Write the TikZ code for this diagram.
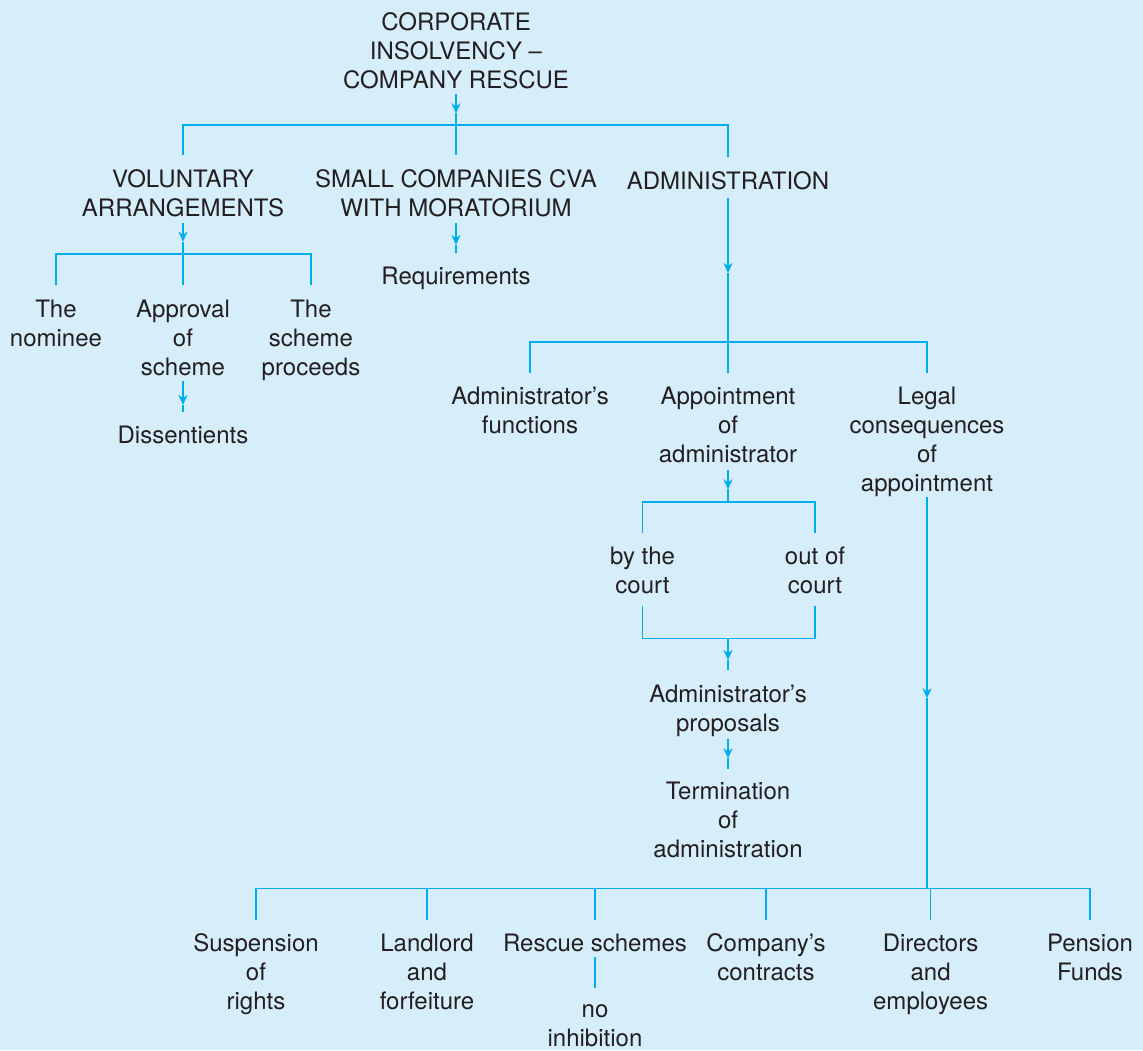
\documentclass[tikz,border=0pt]{standalone}
\usepackage{fontspec}
\setmainfont{TeX Gyre Heros}
\usetikzlibrary{arrows.meta}
\definecolor{bgc}{HTML}{D6EDFA}
\definecolor{lnc}{HTML}{00AEEF}
\definecolor{txc}{HTML}{231F20}
\begin{document}
\begin{tikzpicture}[x=1pt,y=-1pt,
  lbl/.style={inner sep=0pt, align=center, anchor=north, text=txc, font=\fontsize{24}{29}\selectfont},
  conn/.style={draw=lnc, line width=1.6pt},
  tiparrow/.style={-{Stealth[length=10pt,width=9pt,inset=3pt]}},
  gapin/.style={shorten >=14pt},
  gapout/.style={shorten <=6pt},
  gapboth/.style={shorten <=14pt, shorten >=14pt}]
\fill[bgc] (0,0) rectangle (1143,1050);
\useasboundingbox (0,0) rectangle (1143,1050);

% nodes
\node[lbl] (root) at (456,12.0) {CORPORATE\\INSOLVENCY \textendash\\COMPANY RESCUE};
\node[lbl] (va) at (183,169.4) {VOLUNTARY\\ARRANGEMENTS};
\node[lbl] (scva) at (456,169.4) {SMALL COMPANIES CVA\\WITH MORATORIUM};
\node[lbl] (adm) at (728,171.4) {ADMINISTRATION};
\node[lbl] (req) at (456,267.0) {Requirements};
\node[lbl] (nom) at (56,299.4) {The\\nominee};
\node[lbl] (appr) at (183,299.4) {Approval\\of\\scheme};
\node[lbl] (proc) at (311,299.4) {The\\scheme\\proceeds};
\node[lbl] (diss) at (183,426.0) {Dissentients};
\node[lbl] (afun) at (530,386.7) {Administrator’s\\functions};
\node[lbl] (appt) at (728,386.7) {Appointment\\of\\administrator};
\node[lbl] (legal) at (927,386.7) {Legal\\consequences\\of\\appointment};
\node[lbl] (byc) at (642.5,547.0) {by the\\court};
\node[lbl] (ooc) at (815,547.0) {out of\\court};
\node[lbl] (prop) at (728,685.0) {Administrator’s\\proposals};
\node[lbl] (term) at (728,782.0) {Termination\\of\\administration};
\node[lbl] (susp) at (256,933.7) {Suspension\\of\\rights};
\node[lbl] (land) at (427,933.7) {Landlord\\and\\forfeiture};
\node[lbl] (resc) at (595,933.7) {Rescue schemes};
\node[lbl] (cont) at (766,933.7) {Company’s\\contracts};
\node[lbl] (dir) at (930.6,933.7) {Directors\\and\\employees};
\node[lbl] (pens) at (1090,933.7) {Pension\\Funds};
\node[lbl] (noinh) at (595,1004.2) {no\\inhibition};

% junctions and arrow tips
\coordinate (j1) at (456,125);
\coordinate (a1) at (456,113.3);
\coordinate (j2) at (183,254);
\coordinate (a2) at (183,241.7);
\coordinate (a3) at (183,405);
\coordinate (a4) at (456,245);
\coordinate (a5) at (728,273);
\coordinate (j3) at (728,341.7);
\coordinate (a6) at (728,489.3);
\coordinate (j4) at (728,501.7);
\coordinate (j5) at (728,638.3);
\coordinate (a7) at (728,660);
\coordinate (a8) at (728,758.3);
\coordinate (a9) at (927,698.3);
\coordinate (j6) at (927,888.3);

% top level
\draw[conn,tiparrow,shorten <=5pt] (root) -- (a1);
\draw[conn] (a1) -- (j1);
\draw[conn,gapboth] (va) |- (j1) -| (adm);
\draw[conn,gapin] (j1) -- (scva);

% voluntary arrangements
\draw[conn,tiparrow,gapout] (va) -- (a2);
\draw[conn] (a2) -- (j2);
\draw[conn,gapboth] (nom) |- (j2) -| (proc);
\draw[conn,gapin] (j2) -- (appr);
\draw[conn,tiparrow,shorten <=5pt] (appr) -- (a3);
\draw[conn,gapin] (a3) -- (diss);

% small companies
\draw[conn,tiparrow,gapout] (scva) -- (a4);
\draw[conn,gapin] (a4) -- (req);

% administration
\draw[conn,tiparrow,shorten <=8pt] (adm) -- (a5);
\draw[conn] (a5) -- (j3);
\draw[conn,gapboth] (afun) |- (j3) -| (legal);
\draw[conn,gapin] (j3) -- (appt);

% appointment
\draw[conn,tiparrow,shorten <=7pt] (appt) -- (a6);
\draw[conn] (a6) -- (j4);
\draw[conn,gapboth] (byc) |- (j4) -| (ooc);
\draw[conn,shorten <=12pt,shorten >=12pt] (byc) |- (j5) -| (ooc);
\draw[conn,tiparrow] (j5) -- (a7);
\draw[conn,shorten >=15pt] (a7) -- (prop);
\draw[conn,tiparrow,shorten <=2pt] (prop) -- (a8);
\draw[conn,shorten >=13pt] (a8) -- (term);

% legal consequences
\draw[conn,tiparrow] (legal) -- (a9);
\draw[conn] (a9) -- (j6);
\draw[conn,gapboth] (susp) |- (j6) -| (pens);
\draw[conn,gapin] (land |- j6) -- (land);
\draw[conn,gapin] (resc |- j6) -- (resc);
\draw[conn,gapin] (cont |- j6) -- (cont);
\draw[conn,gapin] (dir |- j6) -- (dir);
\draw[conn,shorten <=5pt,shorten >=16.5pt] (resc) -- (noinh);
\end{tikzpicture}
\end{document}
